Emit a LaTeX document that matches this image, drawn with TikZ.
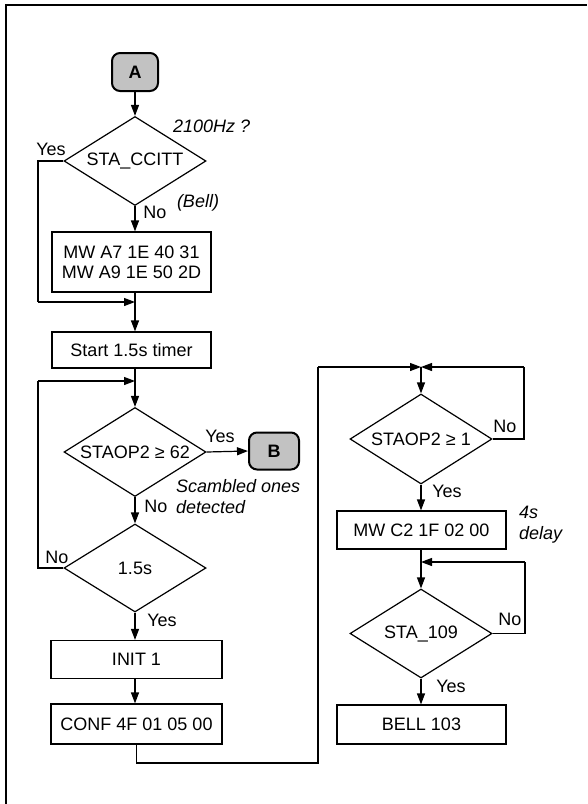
\documentclass[tikz,border=0pt]{standalone}
\usepackage{fontspec}
\setmainfont{Liberation Sans}
\usetikzlibrary{shapes.geometric,arrows.meta}
\begin{document}
\begin{tikzpicture}[x=1pt,y=-1pt,
  every node/.style={font=\fontsize{18}{20}\selectfont, inner sep=0pt},
  conn/.style={line width=1.2pt},
  arr/.style={conn, -{Triangle[length=11pt,width=8pt]}},
  proc/.style={draw, line width=1.2pt, rectangle, align=center},
  test/.style={draw, line width=1.2pt, diamond, aspect=1.6,
               minimum width=142pt, minimum height=89pt},
  term/.style={draw, line width=2pt, rounded corners=8pt, fill=black!24,
               minimum width=46pt, minimum height=38pt, font=\fontsize{18}{20}\selectfont\bfseries},
  lbl/.style={font=\fontsize{18}{20}\selectfont},
  note/.style={font=\fontsize{18}{21}\selectfont\itshape, align=left}]
\useasboundingbox (0,0) rectangle (587,804);
\fill[white] (0,0) rectangle (587,804);

% page frame (top and left edges)
\draw[line width=2.2pt] (6,804) -- (6,5) -- (587,5);

% ---------- left column ----------
\node[term] (A) at (135,72) {A};
\node[test] (d1) at (135,161) {STA\_CCITT};
\node[proc, minimum width=159pt, minimum height=60pt] (mw1) at (131.5,262)
  {MW A7 1E 40 31\\MW A9 1E 50 2D};
\node[proc, minimum width=159pt, minimum height=36pt] (start) at (131.5,350) {Start 1.5s timer};
\node[test] (d2) at (135,452) {STAOP2 ≥ 62};
\node[term, minimum width=50pt, minimum height=37pt] (B) at (274,451) {B};
\node[test, minimum height=88pt] (d3) at (135,568) {1.5s};
\node[proc, minimum width=171pt, minimum height=38pt] (init) at (136.5,659.5) {INIT 1};
\node[proc, minimum width=171pt, minimum height=40pt] (conf) at (136.5,724) {CONF 4F 01 05 00};

\coordinate (j1) at (135,302);
\coordinate (j2) at (135,381);
\coordinate (c1) at (38,161);
\coordinate (c2) at (38,302);
\coordinate (c3) at (38,568);
\coordinate (c4) at (38,381);

% ---------- right column ----------
\coordinate (j3) at (421,367);
\node[test, minimum height=90pt] (d4) at (421,439) {STAOP2 ≥ 1};
\node[proc, minimum width=169pt, minimum height=38pt] (mw2) at (421.5,530) {MW C2 1F 02 00};
\node[test] (d5) at (421,633.5) {STA\_109};
\node[proc, minimum width=169pt, minimum height=39pt] (bell) at (421.5,724.5) {BELL 103};
\coordinate (j4) at (421,562);

\coordinate (b1) at (136.5,763);
\coordinate (b2) at (318,763);
\coordinate (b3) at (318,367);
\coordinate (r1) at (524,439);
\coordinate (r2) at (524,367);
\coordinate (r3) at (525,633.5);
\coordinate (r4) at (525,562);

% ---------- connectors ----------
\draw[arr] (A) -- (d1.north);
\draw[arr] (d1.south) -- (d1.south |- mw1.north);
\draw[conn] (d1.west) -- (c1) -- (c2);
\draw[arr] (c2) -- (j1);
\draw[arr] (mw1.south -| j1) -- (j1 |- start.north);
\draw[arr] (start.south -| j2) -- (d2.north);
\draw[arr] (d2.east) -- (B.west);
\draw[arr] (d2.south) -- (d3.north);
\draw[conn] (d3.west) -- (c3) -- (c4);
\draw[arr] (c4) -- (j2);
\draw[arr] (d3.south) -- (d3.south |- init.north);
\draw[arr] (init.south -| d3.south) -- (conf.north -| d3.south);
\draw[conn] (conf.south) -- (b1) -- (b2) -- (b3);
\draw[arr] (b3) -- (j3);
\draw[conn] (d4.east) -- (r1) -- (r2);
\draw[arr] (r2) -- (j3);
\draw[arr] (j3) -- (d4.north);
\draw[arr] (d4.south) -- (d4.south |- mw2.north);
\draw[arr] (mw2.south -| j4) -- (d5.north);
\draw[conn] (d5.east) -- (r3) -- (r4);
\draw[arr] (r4) -- (j4);
\draw[arr] (d5.south) -- (d5.south |- bell.north);

% ---------- labels ----------
\node[note, anchor=west] (n2100) at (173,126) {2100Hz ?};
\node[lbl] (y1) at (51,149) {Yes};
\node[note] (nbell) at (198,203) {(Bell)};
\node[lbl] (no1) at (155,212) {No};
\node[lbl] (y2) at (220,436) {Yes};
\node[note, anchor=north west] (nscr) at (176,479) {Scambled ones\\detected};
\node[lbl] (no2) at (156,506) {No};
\node[lbl] (no3) at (57,557) {No};
\node[lbl] (y3) at (162,620) {Yes};
\node[lbl] (no4) at (505,426) {No};
\node[lbl] (y4) at (447,491) {Yes};
\node[note, anchor=north west] (n4s) at (519,506) {4s\\delay};
\node[lbl] (no5) at (510,619) {No};
\node[lbl] (y5) at (451,686) {Yes};
\end{tikzpicture}
\end{document}
